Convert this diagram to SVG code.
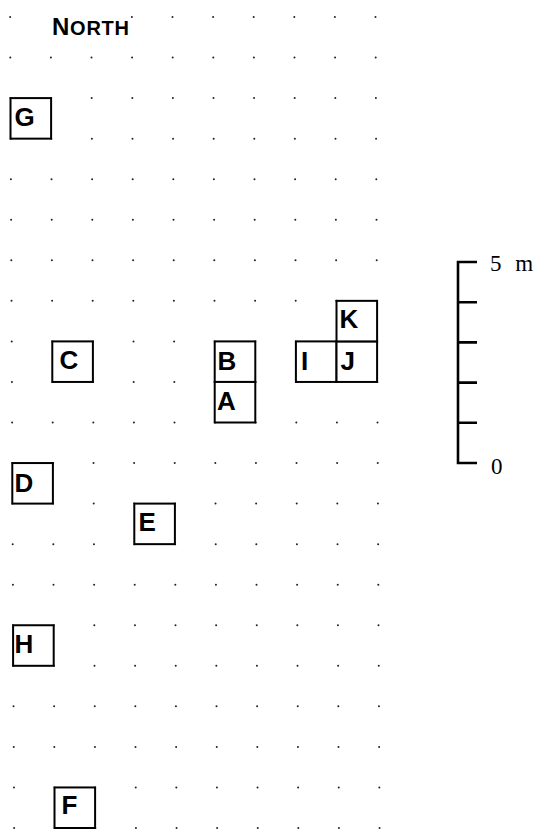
<svg xmlns="http://www.w3.org/2000/svg" xmlns:xlink="http://www.w3.org/1999/xlink" width="546" height="830" viewBox="0 0 546 830">
<style>
.box{fill:#fff;stroke:#000;stroke-width:2}
.lbl{font-family:"Liberation Sans",Arial,sans-serif;font-weight:bold;font-size:26px;fill:#000}
.dot{fill:#222}
.scale{stroke:#000;stroke-width:2.6;fill:none}
.num{font-family:"Liberation Serif","Times New Roman",serif;font-size:23px;fill:#000}
</style>
<defs>
<g id="row">
<circle class="dot" cx="10" cy="0" r="1"/><circle class="dot" cx="50.6" cy="0" r="1"/><circle class="dot" cx="91.2" cy="0" r="1"/><circle class="dot" cx="131.8" cy="0" r="1"/><circle class="dot" cx="172.4" cy="0" r="1"/><circle class="dot" cx="213" cy="0" r="1"/><circle class="dot" cx="253.6" cy="0" r="1"/><circle class="dot" cx="294.2" cy="0" r="1"/><circle class="dot" cx="334.8" cy="0" r="1"/><circle class="dot" cx="375.4" cy="0" r="1"/>
</g>
</defs>
<rect width="546" height="830" fill="#fff"/>
<g id="grid">
<circle class="dot" cx="10.1" cy="17" r="1"/><circle class="dot" cx="131.9" cy="17" r="1"/><circle class="dot" cx="172.5" cy="17" r="1"/><circle class="dot" cx="213.1" cy="17" r="1"/><circle class="dot" cx="253.7" cy="17" r="1"/><circle class="dot" cx="294.3" cy="17" r="1"/><circle class="dot" cx="334.9" cy="17" r="1"/><circle class="dot" cx="375.5" cy="17" r="1"/>
<use xlink:href="#row" transform="translate(0.29,57.55)"/>
<use xlink:href="#row" transform="translate(0.49,98.1)"/>
<use xlink:href="#row" transform="translate(0.69,138.65)"/>
<use xlink:href="#row" transform="translate(0.9,179.2)"/>
<use xlink:href="#row" transform="translate(1.1,219.75)"/>
<use xlink:href="#row" transform="translate(1.3,260.3)"/>
<use xlink:href="#row" transform="translate(1.5,300.85)"/>
<use xlink:href="#row" transform="translate(1.71,341.4)"/>
<use xlink:href="#row" transform="translate(1.91,381.95)"/>
<use xlink:href="#row" transform="translate(2.11,422.5)"/>
<use xlink:href="#row" transform="translate(2.32,463.05)"/>
<use xlink:href="#row" transform="translate(2.52,503.6)"/>
<use xlink:href="#row" transform="translate(2.72,544.15)"/>
<use xlink:href="#row" transform="translate(2.92,584.7)"/>
<use xlink:href="#row" transform="translate(3.13,625.25)"/>
<use xlink:href="#row" transform="translate(3.33,665.8)"/>
<use xlink:href="#row" transform="translate(3.53,706.35)"/>
<use xlink:href="#row" transform="translate(3.73,746.9)"/>
<use xlink:href="#row" transform="translate(3.94,787.45)"/>
<use xlink:href="#row" transform="translate(4.14,828)"/>
</g>
<g id="north"><text x="52" y="35" textLength="77" lengthAdjust="spacing" style="font-family:'Liberation Sans',Arial,sans-serif;font-weight:bold;fill:#000"><tspan font-size="24">N</tspan><tspan font-size="20">ORTH</tspan></text></g>
<g id="connectors"></g>
<g id="node-G"><rect class="box" x="10.5" y="98.1" width="40.6" height="40.55"/><text class="lbl" x="14.5" y="126">G</text></g>
<g id="node-C"><rect class="box" x="52.3" y="341.4" width="40.6" height="40.55"/><text class="lbl" x="59.5" y="369">C</text></g>
<g id="node-B"><rect class="box" x="214.7" y="341.4" width="40.6" height="40.55"/><text class="lbl" x="217.5" y="370">B</text></g>
<g id="node-A"><rect class="box" x="214.7" y="381.95" width="40.6" height="40.55"/><text class="lbl" x="217" y="410">A</text></g>
<g id="node-I"><rect class="box" x="295.9" y="341.4" width="40.6" height="40.55"/><text class="lbl" x="301" y="370">I</text></g>
<g id="node-J"><rect class="box" x="336.5" y="341.4" width="40.6" height="40.55"/><text class="lbl" x="340.5" y="370">J</text></g>
<g id="node-K"><rect class="box" x="336.5" y="300.85" width="40.6" height="40.55"/><text class="lbl" x="339.5" y="328">K</text></g>
<g id="node-D"><rect class="box" x="12.3" y="463.05" width="40.6" height="40.55"/><text class="lbl" x="14.5" y="492">D</text></g>
<g id="node-E"><rect class="box" x="134.3" y="503.6" width="40.6" height="40.55"/><text class="lbl" x="138.5" y="531">E</text></g>
<g id="node-H"><rect class="box" x="13.1" y="625.25" width="40.6" height="40.55"/><text class="lbl" x="14.5" y="653">H</text></g>
<g id="node-F"><rect class="box" x="54.5" y="787.45" width="40.6" height="40.55"/><text class="lbl" x="61.5" y="814">F</text></g>
<g id="scale">
<path class="scale" d="M477,262 H458 V463 H477 M458,302.2 H477 M458,342.4 H477 M458,382.6 H477 M458,422.8 H477"/>
<text class="num" x="490" y="271" word-spacing="8">5 m</text>
<text class="num" x="491" y="474">0</text>
</g>
</svg>
